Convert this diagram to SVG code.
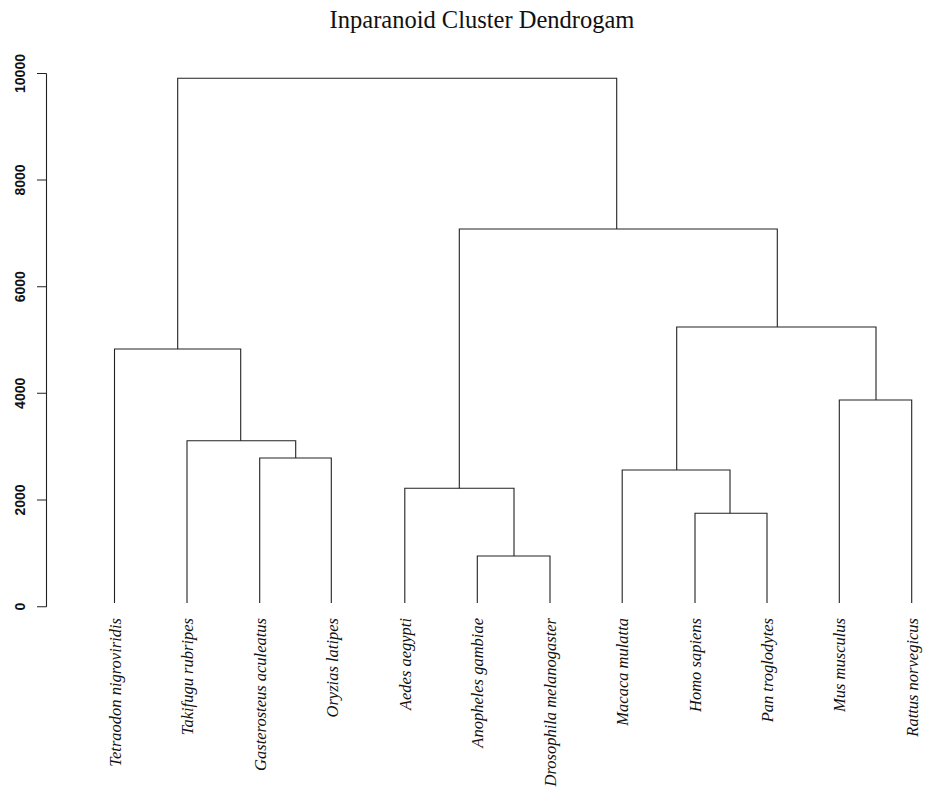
<svg xmlns="http://www.w3.org/2000/svg" width="927" height="787" viewBox="0 0 927 787">
<style>
.ln{stroke:#222;stroke-width:1.1;fill:none}
.tick{font-family:"Liberation Sans",Arial,sans-serif;font-weight:bold;font-size:14px;fill:#111;text-anchor:middle}
.leaf{font-family:"Liberation Serif","Times New Roman",serif;font-style:italic;font-size:16.5px;fill:#111;text-anchor:end}
.title{font-family:"Liberation Serif","Times New Roman",serif;font-size:24.5px;fill:#111;text-anchor:middle}
</style>
<rect width="927" height="787" fill="#fff"/>
<text class="title" x="482" y="28">Inparanoid Cluster Dendrogam</text>
<g id="axis">
<path class="ln" d="M46.5 73.5V606.7M37 606.7H46.5M37 500H46.5M37 393.3H46.5M37 286.7H46.5M37 180H46.5M37 73.5H46.5"/>
<text class="tick" transform="translate(25,606.7) rotate(-90)">0</text>
<text class="tick" transform="translate(25,500) rotate(-90)">2000</text>
<text class="tick" transform="translate(25,393.3) rotate(-90)">4000</text>
<text class="tick" transform="translate(25,286.7) rotate(-90)">6000</text>
<text class="tick" transform="translate(25,180) rotate(-90)">8000</text>
<text class="tick" transform="translate(25,73.5) rotate(-90)">10000</text>
</g>
<g id="connectors">
<path class="ln" d="M177.7 349V78.3H616.7V229"/>
<path class="ln" d="M114.5 603V349H240.7V440.7"/>
<path class="ln" d="M187 603V440.7H295.7V458"/>
<path class="ln" d="M259.7 603V458H331.3V603"/>
<path class="ln" d="M459.3 488.3V229H777.3V327"/>
<path class="ln" d="M404.8 603V488.3H514V556"/>
<path class="ln" d="M477.3 603V556H550V603"/>
<path class="ln" d="M676.7 470V327H876V400"/>
<path class="ln" d="M622.2 603V470H730V513.3"/>
<path class="ln" d="M695 603V513.3H767V603"/>
<path class="ln" d="M839.3 603V400H911.7V603"/>
</g>
<g id="leaf-tetraodon"><text class="leaf" transform="translate(120.5,618) rotate(-90)">Tetraodon nigroviridis</text></g>
<g id="leaf-takifugu"><text class="leaf" transform="translate(193,618) rotate(-90)">Takifugu rubripes</text></g>
<g id="leaf-gasterosteus"><text class="leaf" transform="translate(265.5,618) rotate(-90)">Gasterosteus aculeatus</text></g>
<g id="leaf-oryzias"><text class="leaf" transform="translate(337.5,618) rotate(-90)">Oryzias latipes</text></g>
<g id="leaf-aedes"><text class="leaf" transform="translate(410.5,618) rotate(-90)">Aedes aegypti</text></g>
<g id="leaf-anopheles"><text class="leaf" transform="translate(483,618) rotate(-90)">Anopheles gambiae</text></g>
<g id="leaf-drosophila"><text class="leaf" transform="translate(555.5,618) rotate(-90)">Drosophila melanogaster</text></g>
<g id="leaf-macaca"><text class="leaf" transform="translate(627.5,618) rotate(-90)">Macaca mulatta</text></g>
<g id="leaf-homo"><text class="leaf" transform="translate(700.5,618) rotate(-90)">Homo sapiens</text></g>
<g id="leaf-pan"><text class="leaf" transform="translate(772.5,618) rotate(-90)">Pan troglodytes</text></g>
<g id="leaf-mus"><text class="leaf" transform="translate(845,618) rotate(-90)">Mus musculus</text></g>
<g id="leaf-rattus"><text class="leaf" transform="translate(917.5,618) rotate(-90)">Rattus norvegicus</text></g>
</svg>
